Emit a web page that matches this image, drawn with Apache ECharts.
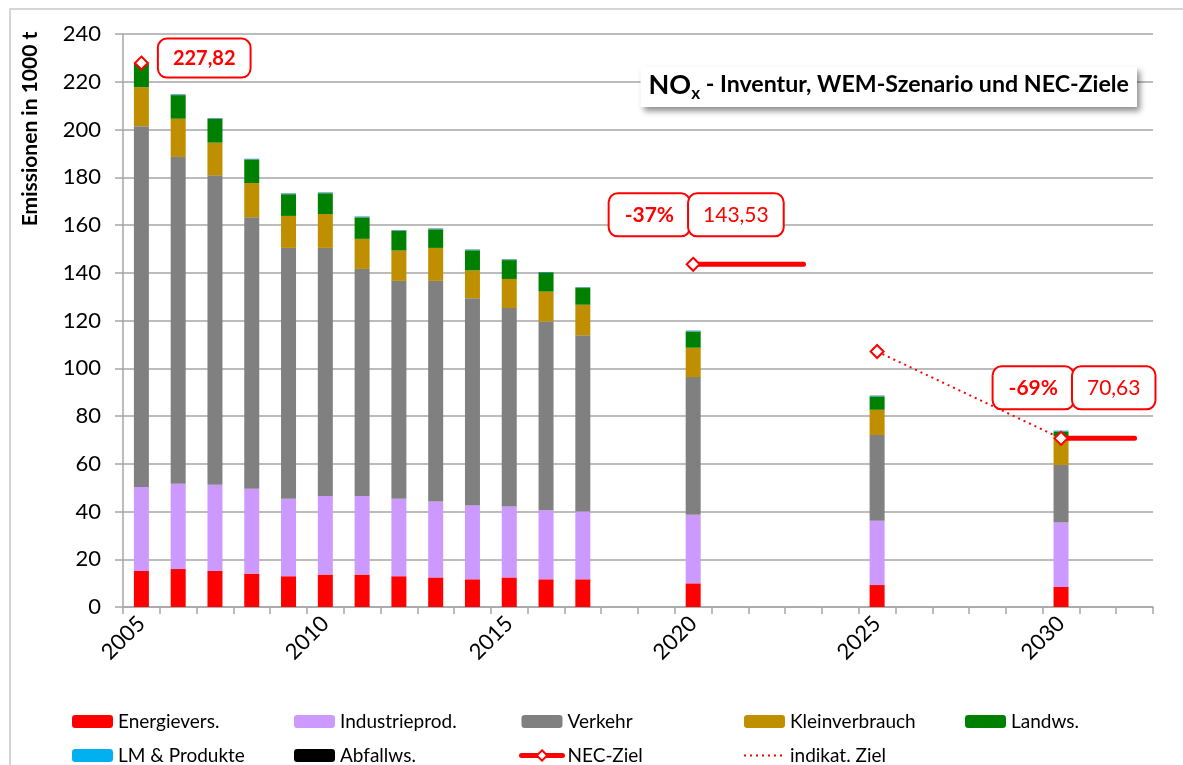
<!DOCTYPE html>
<html><head><meta charset="utf-8">
<script src="https://cdn.jsdelivr.net/npm/echarts@6/dist/echarts.min.js"></script>
<style>html,body{margin:0;padding:0;background:#fff}#c{width:1183px;height:765px}</style>
</head><body><div id="c"></div>
<script>
const categories = ['2005','2006','2007','2008','2009','2010','2011','2012','2013','2014','2015','2016','2017','2018','2019','2020','2021','2022','2023','2024','2025','2026','2027','2028','2029','2030','2031','2032'];
const barYears = ['2005','2006','2007','2008','2009','2010','2011','2012','2013','2014','2015','2016','2017','2020','2025','2030'];
const energievers   = [15.1,15.9,15.1,14.0,12.9,13.6,13.6,12.9,12.4,11.6,12.4,11.6,11.6, 9.9, 9.2, 8.4];
const industrieprod = [35.2,35.7,36.1,35.5,32.4,32.9,32.9,32.4,31.8,30.9,29.7,28.9,28.4,28.7,26.9,27.0];
const verkehr       = [151.1,136.9,129.6,113.7,105.1,103.9,95.1,91.3,92.4,86.8,83.1,79.1,73.8,57.7,35.9,24.1];
const kleinverbrauch= [16.3,16.0,13.7,14.4,13.4,14.2,12.6,12.7,13.8,11.7,12.2,12.5,12.8,12.3,10.6,12.1];
const landws        = [9.8, 9.9, 9.9, 9.8, 9.1, 8.7, 9.0, 8.2, 7.8, 8.4, 7.9, 7.9, 7.0, 6.8, 5.6, 1.9];
const lmProdukte    = [0.2,0.2,0.2,0.2,0.2,0.2,0.2,0.2,0.2,0.2,0.2,0.2,0.2,0.2,0.2,0.2];
const abfallws      = [0.1,0.1,0.1,0.1,0.1,0.1,0.1,0.1,0.1,0.1,0.1,0.1,0.1,0.1,0.1,0.1];
const necYears  = ['2005','2020','2021','2022','2023','2030','2031','2032'];
const necValues = [227.82,143.53,143.53,143.53,143.53,70.63,70.63,70.63];
const necMarked = ['2005','2020','2030'];
const indYears  = ['2025','2030'];
const indValues = [107.0,70.63];

const FONT = 'Lato, "Open Sans", sans-serif';
const RED = '#ff0000';
const GRID = '#a6a6a6';

function toSlots(years, vals){
  return categories.map(c => { const i = years.indexOf(c); return i < 0 ? null : vals[i]; });
}
const fmt = v => v.toFixed(2).replace('.', ',');
const base = necValues[0];
const pct = v => Math.round((v / base - 1) * 100) + '%';

const boxStyle = (bold, size, vpad) => ({
  color: RED, fontFamily: FONT, fontWeight: bold ? 'bold' : 'normal', fontSize: size,
  borderColor: RED, borderWidth: 2, borderRadius: 8, backgroundColor: '#fff',
  lineHeight: 24, padding: [vpad, 15, vpad, 15]
});

const necData = categories.map(c => {
  const i = necYears.indexOf(c);
  if (i < 0) return null;
  const v = necValues[i];
  const item = { value: v };
  if (necMarked.indexOf(c) < 0) { item.symbol = 'none'; return item; }
  if (c === '2005') {
    item.label = { show: true, position: 'right', distance: 10, offset: [0, -5],
      formatter: '{b|' + fmt(v) + '}', rich: { b: Object.assign(boxStyle(true, 20, 8.5), { padding: [8.5, 14, 8.5, 14] }) } };
  } else {
    item.label = { show: true, position: 'top', distance: c === '2020' ? 30 : 31, offset: [c === '2020' ? 3 : 13, 0],
      formatter: '{a|' + pct(v) + '}{b|' + fmt(v) + '}',
      rich: { a: boxStyle(true, 21, 10), b: Object.assign(boxStyle(false, 21, 10), { padding: [10, 14, 10, 14] }) } };
  }
  return item;
});
const indData = categories.map(c => {
  const i = indYears.indexOf(c);
  if (i < 0) return null;
  const item = { value: indValues[i] };
  if (c === '2025') { item.symbol = 'diamond'; item.symbolSize = 13; } else { item.symbol = 'none'; }
  return item;
});

const barDefs = [
  ['Energievers.', energievers, '#ff0000'],
  ['Industrieprod.', industrieprod, '#cc99ff'],
  ['Verkehr', verkehr, '#808080'],
  ['Kleinverbrauch', kleinverbrauch, '#bf8f00'],
  ['Landws.', landws, '#008000'],
  ['LM & Produkte', lmProdukte, '#00b0f0'],
  ['Abfallws.', abfallws, '#000000']
];
const series = barDefs.map(([name, arr, color]) => ({
  name, type: 'bar', stack: 'total', barWidth: 15, data: toSlots(barYears, arr),
  itemStyle: { color }, emphasis: { disabled: true }
}));
series.push({
  name: 'NEC-Ziel', type: 'line', data: necData, connectNulls: false,
  symbol: 'diamond', symbolSize: 13, showAllSymbol: true,
  itemStyle: { color: '#fff', borderColor: RED, borderWidth: 2 },
  lineStyle: { color: RED, width: 5, cap: 'round' }, z: 5
});
series.push({
  name: 'indikat. Ziel', type: 'line', data: indData, connectNulls: true,
  symbol: 'none', showAllSymbol: true,
  itemStyle: { color: '#fff', borderColor: RED, borderWidth: 2 },
  lineStyle: { color: RED, width: 2, type: [2, 4] }, z: 4
});

const legendCommon = { orient: 'vertical', top: 712, height: 80, padding: 0, itemGap: 15, itemWidth: 41, itemHeight: 13,
  textStyle: { fontFamily: FONT, fontSize: 19, color: '#000' }, selectedMode: false };
const legends = [
  [['Energievers.', 'LM & Produkte'], 72],
  [['Industrieprod.', 'Abfallws.'], 294],
  [['Verkehr', { name: 'NEC-Ziel', lineStyle: { width: 5 } }], 519],
  [['Kleinverbrauch', { name: 'indikat. Ziel', itemStyle: { opacity: 0 } }], 743],
  [['Landws.'], 965]
].map(([data, left]) => Object.assign({}, legendCommon, { data, left }));

const chart = echarts.init(document.getElementById('c'));
chart.setOption({
  animation: false,
  backgroundColor: '#fff',
  title: {
    text: '{a|NO}{s|x}{b| - Inventur, WEM-Szenario und NEC-Ziele}',
    right: 46, top: 63, padding: [5, 8, 5, 8], backgroundColor: '#fff',
    shadowColor: 'rgba(0,0,0,0.45)', shadowBlur: 6, shadowOffsetX: 3, shadowOffsetY: 4,
    textStyle: { rich: {
      a: { fontFamily: FONT, fontWeight: 'bold', fontSize: 27, color: '#000', lineHeight: 34 },
      s: { fontFamily: FONT, fontWeight: 'bold', fontSize: 17, color: '#000', lineHeight: 17, verticalAlign: 'bottom' },
      b: { fontFamily: FONT, fontWeight: 'bold', fontSize: 23.2, color: '#000', lineHeight: 34 }
    } }
  },
  grid: { left: 123, right: 30, top: 34, bottom: 158, containLabel: false },
  legend: legends,
  xAxis: {
    type: 'category', data: categories, boundaryGap: true,
    axisLine: { lineStyle: { color: GRID, width: 1.5 } },
    axisTick: { show: true, interval: 0, length: 7, lineStyle: { color: GRID, width: 1.5 } },
    axisLabel: { interval: (i) => i % 5 === 0, rotate: 45, margin: 13, fontFamily: FONT, fontSize: 22, color: '#000' }
  },
  yAxis: {
    type: 'value', min: 0, max: 240, interval: 20,
    axisLine: { show: true, lineStyle: { color: GRID, width: 1.5 } },
    axisTick: { show: true, length: 8, lineStyle: { color: GRID, width: 1.5 } },
    axisLabel: { margin: 22, fontFamily: FONT, fontSize: 22, color: '#000' },
    splitLine: { lineStyle: { color: GRID, width: 1.5 } }
  },
  graphic: [
    { type: 'rect', shape: { x: 10, y: 9, width: 1200, height: 800 }, style: { fill: 'none', stroke: '#c8c8c8', lineWidth: 1.5 }, silent: true, z: -10 },
    { type: 'text', x: 30, y: 129, rotation: Math.PI / 2,
      style: { text: 'Emissionen in 1000 t', fontFamily: FONT, fontWeight: 'bold', fontSize: 21, fill: '#000', textAlign: 'center', textVerticalAlign: 'middle' } }
  ],
  series
});
</script></body></html>
